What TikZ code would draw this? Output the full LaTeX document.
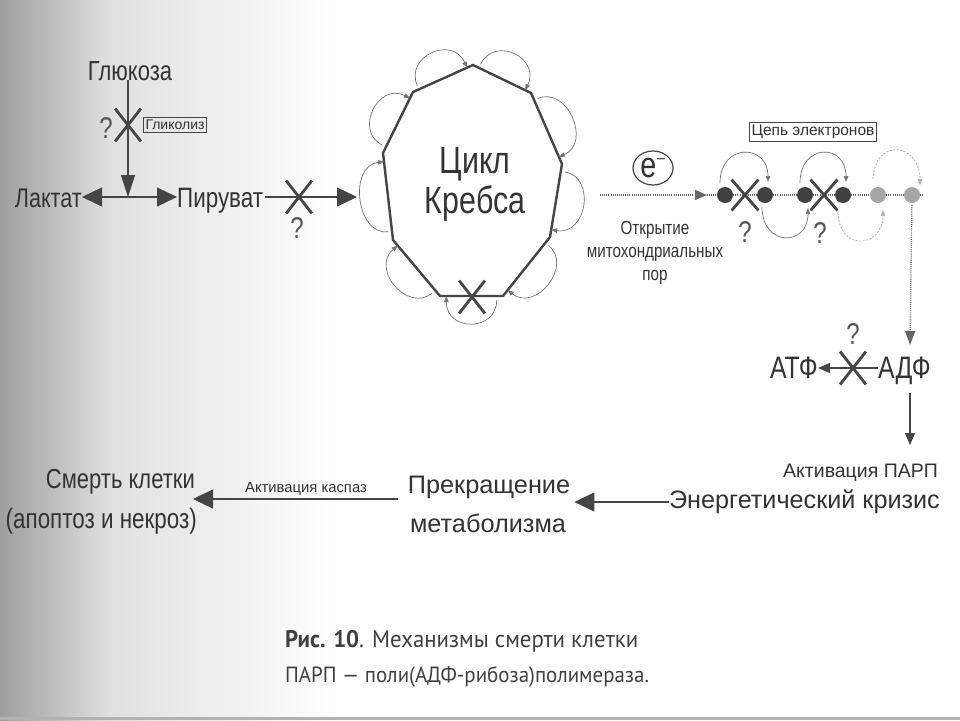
\documentclass[tikz,border=0pt]{standalone}
\usepackage{fontspec}
\setmainfont{Liberation Sans}
\newfontfamily\nar[FakeStretch=0.8]{Liberation Sans}
\newfontfamily\capfont[FakeStretch=0.95]{PT Sans}
\usetikzlibrary{arrows.meta,calc,shapes.misc,shapes.geometric}
\definecolor{ink}{HTML}{333333}
\definecolor{lineink}{HTML}{454545}
\definecolor{qink}{HTML}{555555}
\newcommand\fsz[1]{\fontsize{#1}{#1}\selectfont}
\begin{document}
\begin{tikzpicture}[x=1pt,y=-1pt,
  every node/.style={text=ink, inner sep=0pt},
  lbl/.style={font=\fsz{#1}},
  nlbl/.style={font=\nar\fsz{#1}},
  qm/.style={text=qink, font=\nar\fsz{30}},
  boxlbl/.style={draw=lineink, line width=0.8pt, inner xsep=2pt, inner ysep=2.5pt, font=\fsz{#1}},
  xmark/.style={cross out, draw=lineink, line width=2.8pt, minimum width=23pt, minimum height=30pt, inner sep=0pt},
  conn/.style={draw=lineink, line width=1.2pt},
  bigarrow/.style={conn, -{Triangle[length=20pt,width=19pt]}},
  downarrow/.style={conn, -{Triangle[length=22pt,width=14pt]}},
  midarrow/.style={conn, -{Triangle[length=12pt,width=10pt]}},
  dotline/.style={draw=black!60, line width=1.3pt, dash pattern=on 1pt off 1.1pt},
  loopar/.style={draw=black!55, line width=0.7pt, -{Triangle[length=6pt,width=4.5pt]}},
  ghostar/.style={draw=black!30, line width=0.8pt, dash pattern=on 2pt off 1.5pt, -{Triangle[length=6pt,width=4.5pt]}},
  dot/.style={circle, fill=#1, minimum width=14pt, minimum height=16pt, inner sep=0pt}
]
% background
\useasboundingbox (0,0) rectangle (960,720);
\fill[white] (0,0) rectangle (960,720);
\shade[left color=black!38, right color=black!12] (0,0) rectangle (110,720);
\shade[left color=black!12, right color=white] (110,0) rectangle (340,720);
\draw[black!30, line width=3pt] (0,718) -- (960,718);

% ---- glycolysis ----
\node[nlbl=27.5, anchor=base] (glu) at (130,80) {Глюкоза};
\coordinate (jn) at (128,197);
\node[nlbl=27, anchor=base east] (lak) at (82,207) {Лактат};
\node[nlbl=28, anchor=base west] (pir) at (177,207) {Пируват};
\draw[downarrow] (glu.south -| jn) -- (jn);
\node[xmark] (xg) at (128,125) {};
\node[qm] (qg) at (106,128) {?};
\node[boxlbl=14] (glik) at (175,125) {Гликолиз};
\draw[bigarrow] (jn) -- (lak.east |- jn);
\draw[bigarrow] (jn) -- (pir.west |- jn);
\coordinate (kin) at (357,197);
\draw[bigarrow, shorten <=2pt] (pir.east |- jn) -- (kin);
\node[xmark] (xp) at (299,197) {};
\node[qm] (qp) at (297,228) {?};

% ---- Krebs cycle ----
\coordinate (k0) at (473,65);
\coordinate (k1) at (531,93);
\coordinate (k2) at (562,164);
\coordinate (k3) at (550,237);
\coordinate (k4) at (503,296);
\coordinate (k5) at (440,296);
\coordinate (k6) at (393,240);
\coordinate (k7) at (383,153);
\coordinate (k8) at (413,92);
\draw[draw=lineink, line width=2.4pt, line join=miter] (k0) -- (k1) -- (k2) -- (k3) -- (k4) -- (k5) -- (k6) -- (k7) -- (k8) -- cycle;
\foreach \a/\b in {k0/k1,k1/k2,k2/k3,k3/k4,k4/k5,k5/k6,k6/k7,k7/k8,k8/k0}{
  \coordinate (ls) at ($(\a)!0.1!(\b)$);
  \coordinate (le) at ($(\a)!0.9!(\b)$);
  \coordinate (ls2) at ($(ls)!4pt!90:(le)$);
  \draw[loopar] (ls2) .. controls ($(ls)!36pt!90:(le)$) and ($(le)!36pt!-90:(ls)$) .. (le);
}
\node[nlbl=38, anchor=base] (cyc1) at (475,173) {Цикл};
\node[nlbl=38, anchor=base] (cyc2) at (475,213) {Кребса};
\node[xmark] (xk) at (472,297) {};

% ---- electron chain ----
\node[ellipse, draw=lineink, line width=1.2pt, minimum width=40pt, minimum height=34pt, inner sep=0pt] (el) at (653,168) {{\nar\fsz{36}e}\raisebox{13pt}{\fsz{16}−}};
\coordinate (estart) at (600,195);
\coordinate (etip) at (707,195);
\node[nlbl=19, anchor=base] (op1) at (655,234) {Открытие};
\node[nlbl=19, anchor=base] (op2) at (655,257) {митохондриальных};
\node[nlbl=19, anchor=base] (op3) at (655,280) {пор};
\node[boxlbl=15.5] (chain) at (813,132) {Цепь электронов};
\node[dot=black!75] (d1) at (725,195) {};
\node[dot=black!75] (d2) at (765,195) {};
\node[dot=black!75] (d3) at (805,195) {};
\node[dot=black!75] (d4) at (843,195) {};
\node[dot=black!35] (d5) at (878,195) {};
\node[dot=black!35] (d6) at (912,195) {};
\coordinate (chainend) at (923,195);
\draw[dotline, -{Triangle[length=12pt,width=10pt]}] (estart) -- (etip);
\draw[dotline] (etip) -- (d1) -- (d2) -- (d3) -- (d4) -- (d5) -- (d6) -- (chainend);
\node[xmark, minimum width=24pt, minimum height=28pt] (xc1) at (745,195) {};
\node[xmark, minimum width=24pt, minimum height=28pt] (xc2) at (824,195) {};
\node[qm] (qc1) at (745,232) {?};
\node[qm] (qc2) at (820,233) {?};
\draw[loopar] ($(d1)+(-5,-12)$) .. controls ($(d1)+(-5,-52)$) and ($(d2)+(3,-52)$) .. ($(d2)+(3,-13)$);
\draw[loopar] ($(d2)+(-3,12)$) .. controls ($(d2)+(-3,52)$) and ($(d3)+(3,52)$) .. ($(d3)+(3,13)$);
\draw[loopar] ($(d3)+(-5,-12)$) .. controls ($(d3)+(-5,-52)$) and ($(d4)+(3,-52)$) .. ($(d4)+(3,-13)$);
\draw[ghostar] ($(d4)+(-5,18)$) .. controls ($(d4)+(-3,58)$) and ($(d5)+(5,52)$) .. ($(d5)+(5,15)$);
\draw[ghostar] ($(d5)+(-5,-16)$) .. controls ($(d5)+(-3,-58)$) and ($(d6)+(8,-52)$) .. ($(d6)+(8,-10)$);

% ---- ATP / ADP ----
\node[nlbl=31, anchor=base east] (atf) at (818,378) {АТФ};
\node[nlbl=31, anchor=base west] (adf) at (878,378) {АДФ};
\coordinate (adfin) at (910,345);
\draw[dotline, shorten <=2pt, -{Triangle[length=14pt,width=10pt]}] (d6) -- (adfin);
\draw[midarrow] (adf.west |- 0,368) -- (atf.east |- 0,368);
\node[xmark] (xa) at (853,368) {};
\node[qm] (qa) at (853,334) {?};
\node[lbl=19.5, anchor=base east] (parp) at (938,477) {Активация ПАРП};
\coordinate (adfout) at (910,393);
\coordinate (parpin) at (910,445);
\draw[midarrow] (adfout) -- (parpin);
\node[lbl=25.2, anchor=base east] (energy) at (940,508) {Энергетический кризис};

% ---- bottom row ----
\node[lbl=25.3, anchor=base] (prek1) at (489,493) {Прекращение};
\node[lbl=25.3, anchor=base] (prek2) at (488,532) {метаболизма};
\node[nlbl=27.5, anchor=base east] (smert1) at (195,488) {Смерть клетки};
\node[nlbl=28, anchor=base east] (smert2) at (197,528) {(апоптоз и некроз)};
\draw[bigarrow, shorten >=4pt] (energy.west |- 0,502) -- (prek1.east |- 0,502);
\draw[bigarrow, shorten <=10pt, shorten >=-2pt] (prek1.west |- 0,499) -- (smert1.east |- 0,499);
\node[lbl=14.8, anchor=base] (kasp) at (306,492) {Активация каспаз};

% ---- caption ----
\node[anchor=base west, font=\capfont\fsz{24}, text=black!75] (cap1) at (285,647) {\textbf{Рис. 10}. Механизмы смерти клетки};
\node[anchor=base west, font=\capfont\fsz{22}, text=black!75] (cap2) at (285,682) {ПАРП — поли(АДФ-рибоза)полимераза.};
\end{tikzpicture}
\end{document}
